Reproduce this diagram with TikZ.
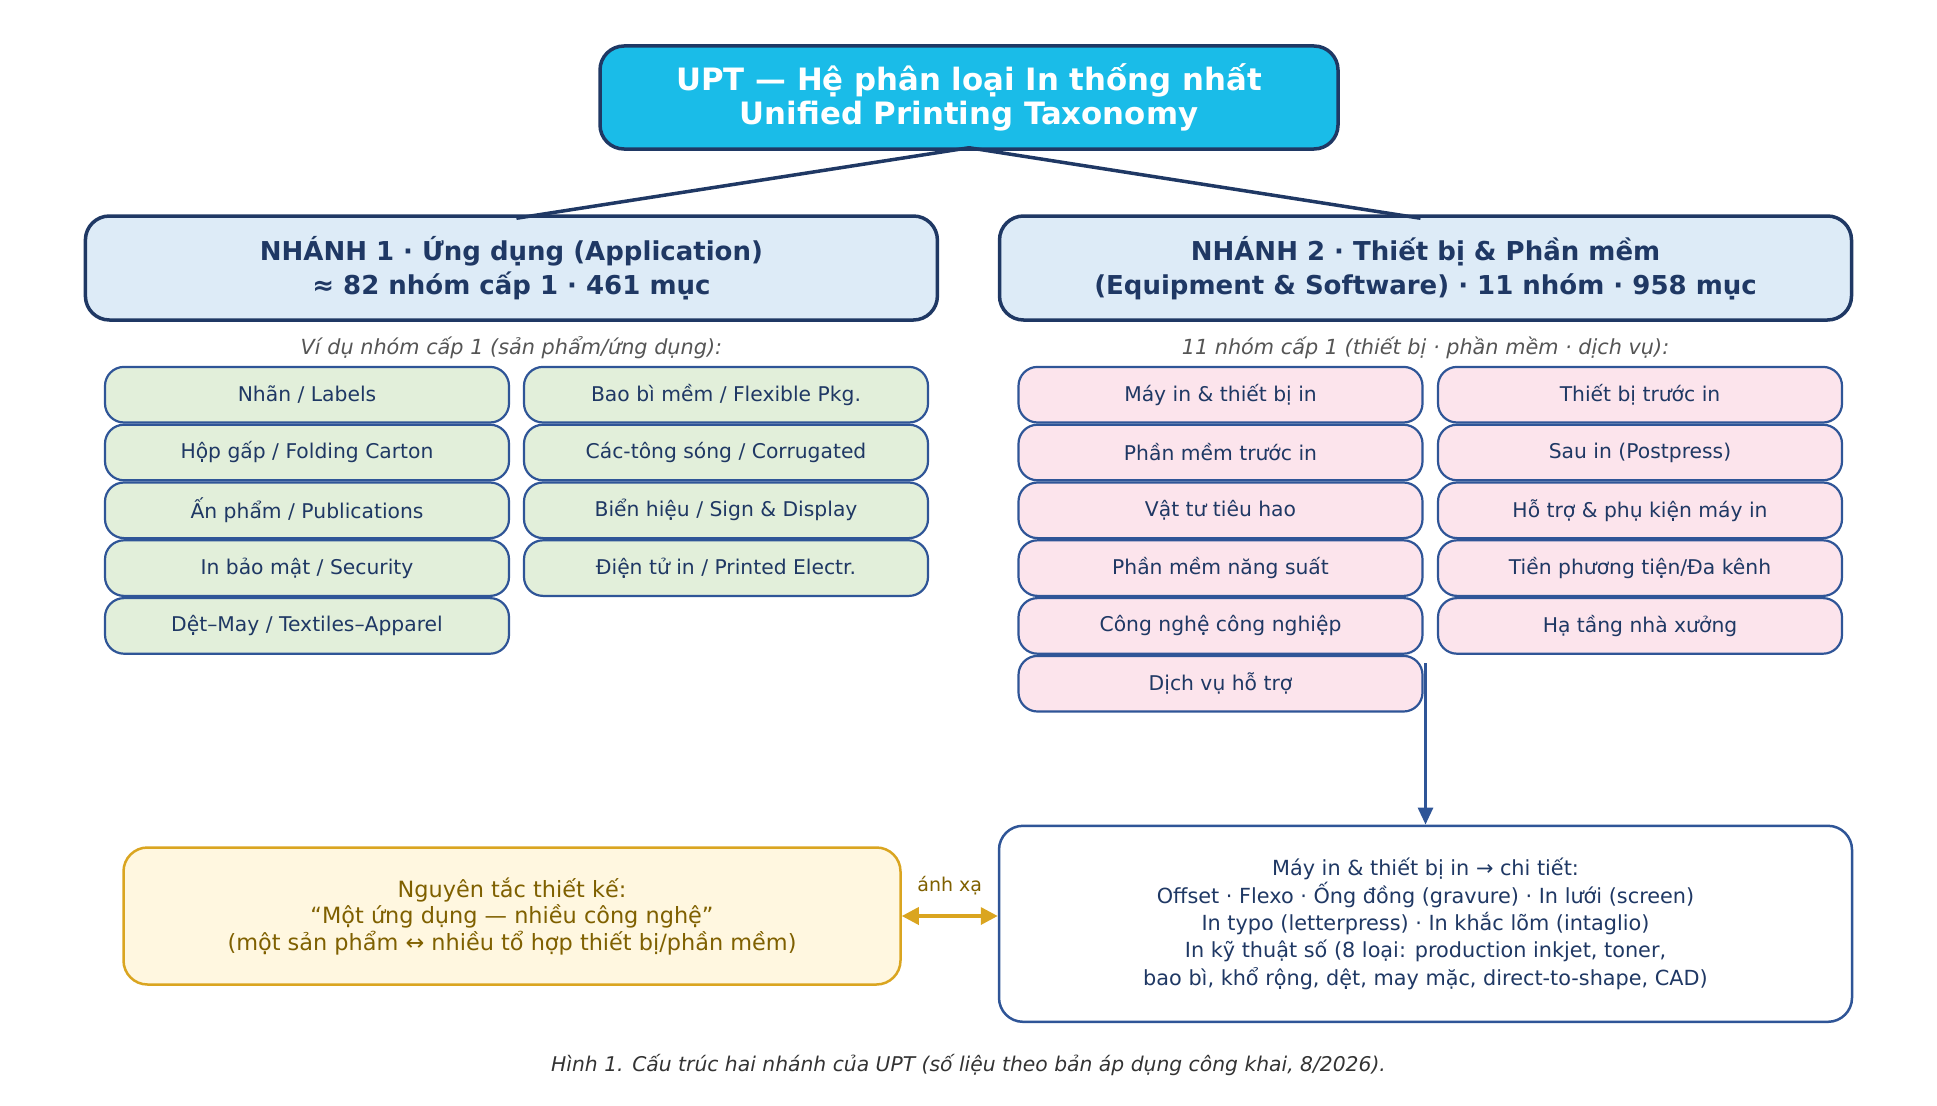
\documentclass[tikz,border=0pt]{standalone}
\usepackage{fontspec}
\setmainfont{DejaVu Sans}
\usetikzlibrary{arrows.meta}
\definecolor{navy}{HTML}{1F3864}
\definecolor{cyanbox}{HTML}{1ABCE8}
\definecolor{lightblue}{HTML}{DDEBF7}
\definecolor{itemblue}{HTML}{2F5597}
\definecolor{greenfill}{HTML}{E2EFDA}
\definecolor{pinkfill}{HTML}{FCE4EC}
\definecolor{goldline}{HTML}{DAA520}
\definecolor{goldfill}{HTML}{FFF7E0}
\definecolor{olive}{HTML}{7F6000}
\definecolor{subgray}{HTML}{555555}
\definecolor{capgray}{HTML}{333333}
\tikzset{
  titlebox/.style={draw=navy, line width=3.5pt, fill=cyanbox, rounded corners=24pt,
    minimum width=738pt, minimum height=103pt, inner sep=0pt, align=center,
    text=white, font=\fontsize{30.8}{34}\selectfont\bfseries},
  branchbox/.style={draw=navy, line width=3.5pt, fill=lightblue, rounded corners=24pt,
    minimum width=852pt, minimum height=104pt, inner sep=0pt, align=center,
    text=navy, font=\fontsize{26}{34.5}\selectfont\bfseries},
  itembox/.style={draw=itemblue, line width=2.2pt, rounded corners=19pt,
    minimum width=404pt, minimum height=55.6pt, inner sep=0pt, align=center,
    text=navy, font=\fontsize{20.3}{24}\selectfont},
  appitem/.style={itembox, fill=greenfill},
  eqitem/.style={itembox, fill=pinkfill},
  subtitle/.style={text=subgray, font=\fontsize{20.8}{24}\selectfont\itshape, inner sep=0pt},
  link/.style={draw=navy, line width=3.5pt},
  detailbox/.style={draw=itemblue, line width=2.5pt, fill=white, rounded corners=24pt,
    minimum width=853pt, minimum height=196pt, inner sep=0pt, align=center,
    text=navy, font=\fontsize{20.8}{27.3}\selectfont},
  notebox/.style={draw=goldline, line width=2.5pt, fill=goldfill, rounded corners=24pt,
    minimum width=777pt, minimum height=137pt, inner sep=0pt, align=center,
    text=olive, font=\fontsize{22.4}{26.5}\selectfont},
}
\begin{document}
\begin{tikzpicture}[x=1pt,y=-1pt]
\useasboundingbox (0,0) rectangle (1937,1105);

\node[titlebox] (top) at (969,97.5) {UPT — Hệ phân loại In thống nhất\\Unified Printing Taxonomy};
\node[branchbox] (b1) at (511.4,268) {NHÁNH 1 · Ứng dụng (Application)\\≈ 82 nhóm cấp 1 · 461 mục};
\node[branchbox] (b2) at (1425.5,268) {NHÁNH 2 · Thiết bị \& Phần mềm\\(Equipment \& Software) · 11 nhóm · 958 mục};

\draw[link] ([yshift=3pt]top.south) -- ([xshift=5pt,yshift=-4pt]b1.north);
\draw[link] ([yshift=3pt]top.south) -- ([xshift=-5pt,yshift=-4pt]b2.north);

\node[subtitle] (s1) at (511.4,347.5) {Ví dụ nhóm cấp 1 (sản phẩm/ứng dụng):};
\node[subtitle] (s2) at (1425.5,347.5) {11 nhóm cấp 1 (thiết bị · phần mềm · dịch vụ):};

% Branch 1 items
\node[appitem] (a1) at (307,394.7) {Nhãn / Labels};
\node[appitem] (a2) at (307,452.5) {Hộp gấp / Folding Carton};
\node[appitem] (a3) at (307,510.3) {Ấn phẩm / Publications};
\node[appitem] (a4) at (307,568.1) {In bảo mật / Security};
\node[appitem] (a5) at (307,625.9) {Dệt–May / Textiles–Apparel};
\node[appitem] (a6) at (726,394.7) {Bao bì mềm / Flexible Pkg.};
\node[appitem] (a7) at (726,452.5) {Các-tông sóng / Corrugated};
\node[appitem] (a8) at (726,510.3) {Biển hiệu / Sign \& Display};
\node[appitem] (a9) at (726,568.1) {Điện tử in / Printed Electr.};

% Branch 2 items
\node[eqitem] (e1) at (1220.5,394.7) {Máy in \& thiết bị in};
\node[eqitem] (e2) at (1220.5,452.5) {Phần mềm trước in};
\node[eqitem] (e3) at (1220.5,510.3) {Vật tư tiêu hao};
\node[eqitem] (e4) at (1220.5,568.1) {Phần mềm năng suất};
\node[eqitem] (e5) at (1220.5,625.9) {Công nghệ công nghiệp};
\node[eqitem] (e6) at (1220.5,683.7) {Dịch vụ hỗ trợ};
\node[eqitem] (e7) at (1640,394.7) {Thiết bị trước in};
\node[eqitem] (e8) at (1640,452.5) {Sau in (Postpress)};
\node[eqitem] (e9) at (1640,510.3) {Hỗ trợ \& phụ kiện máy in};
\node[eqitem] (e10) at (1640,568.1) {Tiền phương tiện/Đa kênh};
\node[eqitem] (e11) at (1640,625.9) {Hạ tầng nhà xưởng};

% detail and note
\node[detailbox] (det) at (1425.5,923.8) {Máy in \& thiết bị in → chi tiết:\\Offset · Flexo · Ống đồng (gravure) · In lưới (screen)\\In typo (letterpress) · In khắc lõm (intaglio)\\In kỹ thuật số (8 loại: production inkjet, toner,\\bao bì, khổ rộng, dệt, may mặc, direct-to-shape, CAD)};
\node[notebox] (note) at (512,916) {Nguyên tắc thiết kế:\\“Một ứng dụng — nhiều công nghệ”\\(một sản phẩm ↔ nhiều tổ hợp thiết bị/phần mềm)};

\coordinate (arrstart) at (1425.5,663);
\draw[draw=itemblue, line width=3pt, -{Triangle[length=17pt,width=15pt]}] (arrstart) -- (det.north);

\draw[draw=goldline, line width=3.5pt, {Triangle[length=17pt,width=17pt]}-{Triangle[length=17pt,width=17pt]}] (note.east) -- (note.east -| det.west)
  node[midway, above=16pt, text=olive, font=\fontsize{19}{21}\selectfont] (lbl) {ánh xạ};

\node[text=capgray, font=\fontsize{20.3}{23}\selectfont\itshape] (cap) at (968.5,1065) {Hình 1. Cấu trúc hai nhánh của UPT (số liệu theo bản áp dụng công khai, 8/2026).};
\end{tikzpicture}
\end{document}
